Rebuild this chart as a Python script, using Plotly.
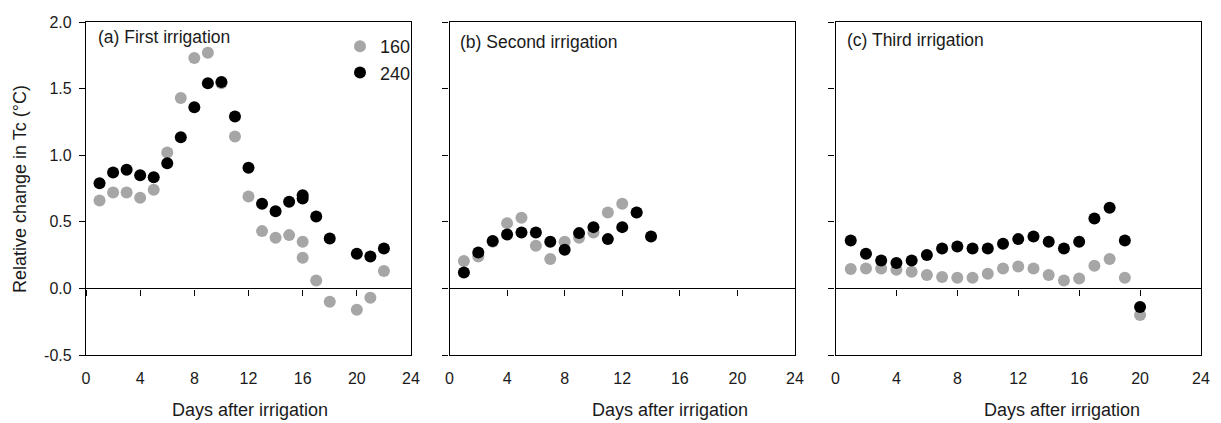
import plotly.graph_objects as go

# ---- data ----
days_a_160 = [1, 2, 3, 4, 5, 6, 7, 8, 9, 10, 11, 12, 13, 14, 15, 16, 16, 17, 18, 20, 21, 22]
tc_a_160 = [0.66, 0.72, 0.72, 0.68, 0.74, 1.02, 1.43, 1.73, 1.77, 1.54, 1.14, 0.69, 0.43, 0.38, 0.40, 0.35, 0.23, 0.06, -0.10, -0.16, -0.07, 0.13]
days_a_240 = [1, 2, 3, 4, 5, 6, 7, 8, 9, 10, 11, 12, 13, 14, 15, 16, 16, 17, 18, 20, 21, 22]
tc_a_240 = [0.79, 0.87, 0.89, 0.85, 0.835, 0.94, 1.135, 1.36, 1.54, 1.55, 1.29, 0.905, 0.635, 0.58, 0.65, 0.70, 0.675, 0.54, 0.375, 0.26, 0.24, 0.30]

days_b_160 = [1, 2, 3, 4, 5, 6, 7, 8, 9, 10, 11, 12, 13]
tc_b_160 = [0.205, 0.24, 0.35, 0.49, 0.53, 0.32, 0.22, 0.35, 0.38, 0.42, 0.57, 0.635, 0.57]
days_b_240 = [1, 2, 3, 4, 5, 6, 7, 8, 9, 10, 11, 12, 13, 14]
tc_b_240 = [0.12, 0.27, 0.355, 0.405, 0.42, 0.42, 0.35, 0.29, 0.415, 0.46, 0.37, 0.46, 0.57, 0.39]

days_c_160 = [1, 2, 3, 4, 5, 6, 7, 8, 9, 10, 11, 12, 13, 14, 15, 16, 17, 18, 19, 20]
tc_c_160 = [0.145, 0.15, 0.15, 0.14, 0.125, 0.10, 0.085, 0.08, 0.08, 0.11, 0.15, 0.165, 0.15, 0.10, 0.06, 0.075, 0.17, 0.22, 0.08, -0.20]
days_c_240 = [1, 2, 3, 4, 5, 6, 7, 8, 9, 10, 11, 12, 13, 14, 15, 16, 17, 18, 19, 20]
tc_c_240 = [0.36, 0.26, 0.21, 0.19, 0.21, 0.25, 0.30, 0.315, 0.30, 0.30, 0.335, 0.37, 0.39, 0.35, 0.30, 0.35, 0.525, 0.605, 0.36, -0.14]

panel_titles = ["(a) First irrigation", "(b) Second irrigation", "(c) Third irrigation"]
series_names = ["160", "240"]
x_ticks = [0, 4, 8, 12, 16, 20, 24]
y_ticks = [-0.5, 0.0, 0.5, 1.0, 1.5, 2.0]
y_tick_labels = ["-0.5", "0.0", "0.5", "1.0", "1.5", "2.0"]

GRAY = "#a6a6a6"
BLACK = "#000000"
TXT = "#1a1a1a"
FONT = "Liberation Sans, Arial, sans-serif"
W, H = 1221, 423
ML, MR, MT, MB = 86, 20, 22, 68
PW = W - ML - MR
PH = H - MT - MB


def px_x(p):
    return (p - ML) / PW


def px_y(p):
    return (H - MB - p) / PH


domains = [[px_x(86), px_x(411)], [px_x(449.5), px_x(795)], [px_x(835.5), px_x(1201)]]

fig = go.Figure()

panels = [
    (days_a_160, tc_a_160, days_a_240, tc_a_240),
    (days_b_160, tc_b_160, days_b_240, tc_b_240),
    (days_c_160, tc_c_160, days_c_240, tc_c_240),
]

for i, (x1, y1, x2, y2) in enumerate(panels):
    xa = "x" if i == 0 else f"x{i+1}"
    ya = "y" if i == 0 else f"y{i+1}"
    fig.add_trace(go.Scatter(x=x1, y=y1, mode="markers", name=series_names[0],
                             marker=dict(color=GRAY, size=12, line=dict(width=0)),
                             xaxis=xa, yaxis=ya, showlegend=(i == 0), legendrank=1))
    fig.add_trace(go.Scatter(x=x2, y=y2, mode="markers", name=series_names[1],
                             marker=dict(color=BLACK, size=12, line=dict(width=0)),
                             xaxis=xa, yaxis=ya, showlegend=(i == 0), legendrank=2))
    # empty trace so the zero-line axis subplot exists
    fig.add_trace(go.Scatter(x=[], y=[], mode="markers", xaxis=f"x{i+4}", yaxis=ya,
                             showlegend=False, hoverinfo="skip"))

layout = dict(
    width=W, height=H,
    margin=dict(l=ML, r=MR, t=MT, b=MB),
    paper_bgcolor="white", plot_bgcolor="white",
    font=dict(family=FONT, size=16, color=TXT),
    showlegend=True,
    legend=dict(x=px_x(340), y=px_y(28), xanchor="left", yanchor="top",
                bgcolor="rgba(0,0,0,0)", font=dict(size=18, color=TXT),
                itemwidth=30, tracegroupgap=0),
)

for i in range(3):
    sx = "" if i == 0 else str(i + 1)
    layout[f"xaxis{sx}"] = dict(
        domain=domains[i], range=[0, 24], tickvals=x_ticks, ticks="",
        showline=True, linecolor="black", linewidth=1.3, mirror=True,
        showgrid=False, zeroline=False, anchor=f"y{sx}",
        ticklabelstandoff=9, tickfont=dict(size=16, family=FONT, color=TXT),
    )
    layout[f"yaxis{sx}"] = dict(
        domain=[0, 1], range=[-0.5, 2.0], tickvals=y_ticks, ticktext=y_tick_labels,
        ticks="outside", ticklen=6, tickwidth=1.2, tickcolor="black",
        showline=True, linecolor="black", linewidth=1.3, mirror=True,
        showgrid=False, zeroline=False, anchor=f"x{sx}",
        showticklabels=(i == 0), ticklabelstandoff=4,
        tickfont=dict(size=16, family=FONT, color=TXT),
    )
    layout[f"xaxis{i+4}"] = dict(
        overlaying=f"x{sx}", anchor="free", position=0.2,
        range=[0, 24], tickvals=x_ticks, ticks="outside", ticklen=6,
        tickwidth=1.2, tickcolor="black", showticklabels=False,
        showline=True, linecolor="black", linewidth=1.3,
        showgrid=False, zeroline=False,
    )

fig.update_layout(**layout)

annotations = []
title_x = [96, 458, 845]
title_y = [37, 42, 40]
for i in range(3):
    annotations.append(dict(text=panel_titles[i], xref="paper", yref="paper",
                            x=px_x(title_x[i]), y=px_y(title_y[i]),
                            xanchor="left", yanchor="middle", showarrow=False,
                            font=dict(size=17.5, family=FONT, color=TXT)))
xt_centers = [250, 670, 1062]
for c in xt_centers:
    annotations.append(dict(text="Days after irrigation", xref="paper", yref="paper",
                            x=px_x(c), y=px_y(410), xanchor="center", yanchor="middle",
                            showarrow=False, font=dict(size=18, family=FONT, color=TXT)))
annotations.append(dict(text="Relative change in Tc (°C)", xref="paper", yref="paper",
                        x=px_x(20), y=px_y(189), xanchor="center", yanchor="middle",
                        textangle=-90, showarrow=False,
                        font=dict(size=18, family=FONT, color=TXT)))
fig.update_layout(annotations=annotations)

fig.write_html("out.html")
